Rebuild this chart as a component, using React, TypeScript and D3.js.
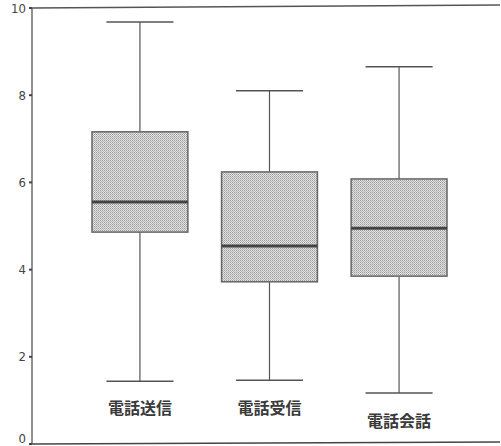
import React from "react";
import * as d3 from "d3";

const categories = ["電話送信", "電話受信", "電話会話"];
const whiskerLow = [1.44, 1.46, 1.17];
const q1 = [4.86, 3.72, 3.85];
const median = [5.55, 4.54, 4.95];
const q3 = [7.16, 6.24, 6.08];
const whiskerHigh = [9.68, 8.1, 8.65];
const yTicks = [0, 2, 4, 6, 8, 10];
const labelOffsets = [0, 0, 13];

export default function App() {
  const W = 501, H = 446;
  const left = 32, right = 500, top = 8, bottom = 444;
  const y = d3.scaleLinear().domain([0, 10]).range([bottom, top]);
  const x = d3.scaleBand().domain(categories).range([92, 447]).paddingInner(0.26).paddingOuter(0);
  const bw = x.bandwidth();
  return (
    <div style={{ position: "absolute", left: 0, top: 0 }}>
      <svg width={W} height={H} style={{ display: "block", background: "#fff" }}>
        <defs>
          <pattern id="stip" width="2" height="2" patternUnits="userSpaceOnUse">
            <rect width="2" height="2" fill="#e2e2e2" />
            <rect width="1" height="1" fill="#9a9a9a" />
            <rect x="1" y="1" width="1" height="1" fill="#b8b8b8" />
          </pattern>
        </defs>
        <line x1={left} x2={right} y1={top} y2={top - 3} stroke="#555" strokeWidth={1.3} />
        <line x1={left} x2={right} y1={bottom} y2={bottom - 2} stroke="#444" strokeWidth={1.5} />
        <line x1={left} x2={left} y1={top} y2={bottom} stroke="#555" strokeWidth={1.3} />
        {yTicks.map((t) => (
          <g key={t}>
            <line x1={left - 3} x2={left} y1={y(t)} y2={y(t)} stroke="#444" strokeWidth={2} />
            <text x={left - 6} y={y(t) - (t === 0 ? 6 : 0)} dy="0.35em" textAnchor="end" fontSize={13}
              fontFamily="Liberation Sans Narrow, DejaVu Sans Condensed, sans-serif" fill="#444">{t}</text>
          </g>
        ))}
        {categories.map((c, i) => {
          const x0 = x(c)!;
          const cx = x0 + bw / 2;
          const capW = bw * 0.7;
          return (
            <g key={c}>
              <line x1={cx} x2={cx} y1={y(whiskerHigh[i])} y2={y(q3[i])} stroke="#555" strokeWidth={1.2} />
              <line x1={cx} x2={cx} y1={y(q1[i])} y2={y(whiskerLow[i])} stroke="#555" strokeWidth={1.2} />
              <line x1={cx - capW / 2} x2={cx + capW / 2} y1={y(whiskerHigh[i])} y2={y(whiskerHigh[i])} stroke="#555" strokeWidth={1.5} />
              <line x1={cx - capW / 2} x2={cx + capW / 2} y1={y(whiskerLow[i])} y2={y(whiskerLow[i])} stroke="#555" strokeWidth={1.5} />
              <rect x={x0} y={y(q3[i])} width={bw} height={y(q1[i]) - y(q3[i])} fill="url(#stip)" stroke="#666" strokeWidth={1.5} />
              <line x1={x0} x2={x0 + bw} y1={y(median[i])} y2={y(median[i])} stroke="#444" strokeWidth={3} />
              <text x={cx} y={414 + labelOffsets[i]} textAnchor="middle" fontSize={16} fontWeight={700}
                fontFamily="Noto Sans CJK JP, sans-serif" fill="#3a3a3a">{c}</text>
            </g>
          );
        })}
      </svg>
    </div>
  );
}
